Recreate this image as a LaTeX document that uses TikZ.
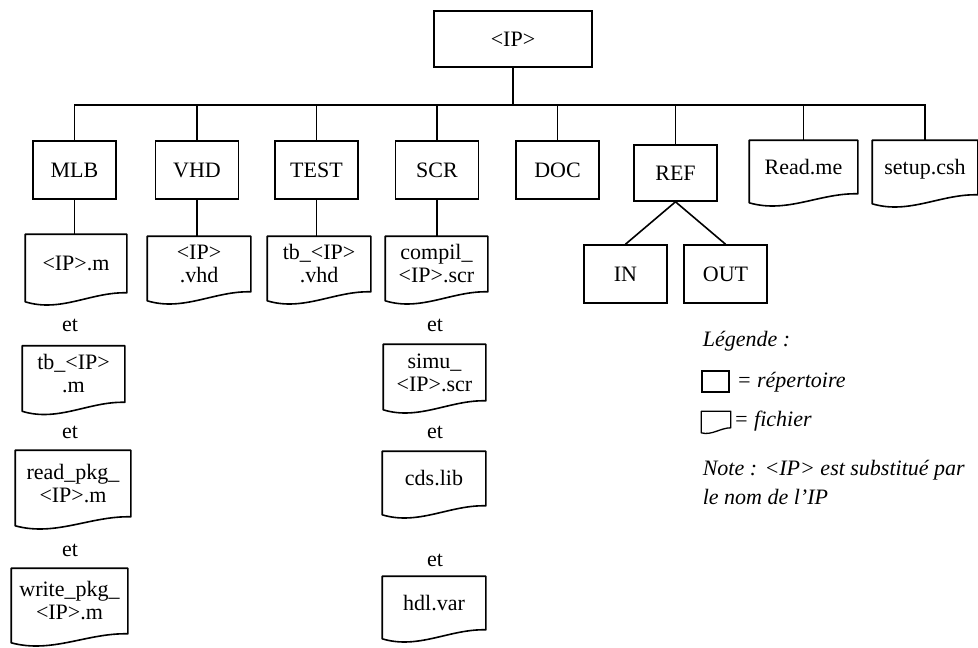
\documentclass[tikz,border=0pt]{standalone}
\usepackage{fontspec}
\setmainfont{Liberation Serif}
\usetikzlibrary{calc}

\newcommand\lblfont{\fontsize{22}{23}\selectfont}

% outline of a "file" node: flat top, wavy bottom dropping to the left
\newcommand\fileoutline[1]{%
  \draw[line join=round] (#1.south east) -- (#1.north east) -- (#1.north west)
    -- ($(#1.south west)+(0,9)$)
    .. controls ($(#1.south west)!0.35!(#1.south east)+(0,20)$)
           and ($(#1.south west)!0.65!(#1.south east)+(0,-1)$) .. (#1.south east)
    -- cycle;}

\begin{document}
\begin{tikzpicture}[x=1pt,y=-1pt,line width=1.6pt,
  oneline/.style={text height=16pt,text depth=2pt},
  dirbox/.style={draw,oneline,minimum width=83pt,minimum height=58pt,inner sep=0pt,font=\lblfont},
  filebox/.style={inner sep=0pt,align=center,font=\lblfont},
  andlbl/.style={font=\lblfont,inner sep=0pt},
  legendtxt/.style={font=\lblfont\itshape,inner sep=0pt,anchor=west}]

\useasboundingbox (0,0) rectangle (978,648);

% root and first level directories
\node[dirbox,minimum width=158pt,minimum height=56pt] (ip) at (513,39) {<IP>};
\node[dirbox] (mlb)  at (74.5,170) {MLB};
\node[dirbox] (vhd)  at (197,170)  {VHD};
\node[dirbox] (test) at (316.5,170) {TEST};
\node[dirbox] (scr)  at (437,170)  {SCR};
\node[dirbox] (doc)  at (557.5,170) {DOC};
\node[dirbox,minimum height=56pt] (ref) at (675.5,173) {REF};
\node[filebox,oneline,minimum width=107pt,minimum height=52pt] (readme) at (803.5,167) {Read.me};
\node[filebox,oneline,minimum width=104pt,minimum height=53pt] (setup)  at (925,167.5) {setup.csh};
\fileoutline{readme}
\fileoutline{setup}

% REF sub-directories
\node[dirbox] (in)  at (625.5,274) {IN};
\node[dirbox] (out) at (725.5,274) {OUT};

% tree connectors from the root
\coordinate (bus) at (0,105);
\foreach \c in {mlb,vhd,test,scr,doc,ref,readme,setup}
  {\draw (ip.south) -- (ip.south |- bus) -| (\c.north);}
\draw (ref.south) -- (in.north);
\draw (ref.south) -- (out.north);

% MLB files
\node[filebox,oneline,minimum width=100pt,minimum height=57pt] (fm1) at (76,263.5) {<IP>.m};
\node[andlbl] (et1) at (70,325) {et};
\node[filebox,minimum width=101pt,minimum height=55pt] (fm2) at (73.5,374) {tb\_<IP>\\.m};
\node[andlbl] (et2) at (70,432) {et};
\node[filebox,minimum width=114pt,minimum height=65pt] (fm3) at (73,483.5) {read\_pkg\_\\<IP>.m};
\node[andlbl] (et3) at (70,550) {et};
\node[filebox,minimum width=115pt,minimum height=64pt] (fm4) at (69.5,601) {write\_pkg\_\\<IP>.m};
\foreach \f in {fm1,fm2,fm3,fm4} {\fileoutline{\f}}

% VHD and TEST files
\node[filebox,minimum width=102pt,minimum height=54pt] (fv) at (199,264) {<IP>\\.vhd};
\node[filebox,minimum width=102pt,minimum height=54pt] (ft) at (319,264) {tb\_<IP>\\.vhd};
\fileoutline{fv}
\fileoutline{ft}

% SCR files
\node[filebox,minimum width=101pt,minimum height=54pt] (fs1) at (436.5,264) {compil\_\\<IP>.scr};
\node[andlbl] (et4) at (435,325) {et};
\node[filebox,minimum width=101pt,minimum height=55pt] (fs2) at (434.5,372.5) {simu\_\\<IP>.scr};
\node[andlbl] (et5) at (435,432) {et};
\node[filebox,oneline,minimum width=102pt,minimum height=53pt] (fs3) at (434,478.5) {cds.lib};
\node[andlbl] (et6) at (435,560) {et};
\node[filebox,oneline,minimum width=102pt,minimum height=52pt] (fs4) at (434,603) {hdl.var};
\foreach \f in {fs1,fs2,fs3,fs4} {\fileoutline{\f}}

% directory to file links
\draw (mlb.south) -- (mlb.south |- fm1.north);
\draw (vhd.south) -- (vhd.south |- fv.north);
\draw (test.south) -- (test.south |- ft.north);
\draw (scr.south) -- (scr.south |- fs1.north);

% legend
\node[legendtxt] (lgt) at (702,341) {Légende :};
\node[draw,line width=1.3pt,minimum width=27pt,minimum height=21pt,inner sep=0pt] (lgdir) at (715.5,381.5) {};
\node[legendtxt] (lgdirt) at (736,382) {= répertoire};
\node[inner sep=0pt,minimum width=28pt,minimum height=15pt] (lgfile) at (716,419.5) {};
\begin{scope}[line width=1.3pt]
  \draw[line join=round] (lgfile.south east) -- (lgfile.north east) -- (lgfile.north west)
    -- ($(lgfile.south west)+(0,5)$)
    .. controls ($(lgfile.south west)!0.35!(lgfile.south east)+(0,8)$)
           and ($(lgfile.south west)!0.65!(lgfile.south east)+(0,0)$) .. (lgfile.south east)
    -- cycle;
\end{scope}
\node[legendtxt] (lgfilet) at (733,421) {= fichier};
\node[legendtxt] (note1) at (702,470) {Note : <IP> est substitué par};
\node[legendtxt] (note2) at (702,497) {le nom de l’IP};

\end{tikzpicture}
\end{document}
